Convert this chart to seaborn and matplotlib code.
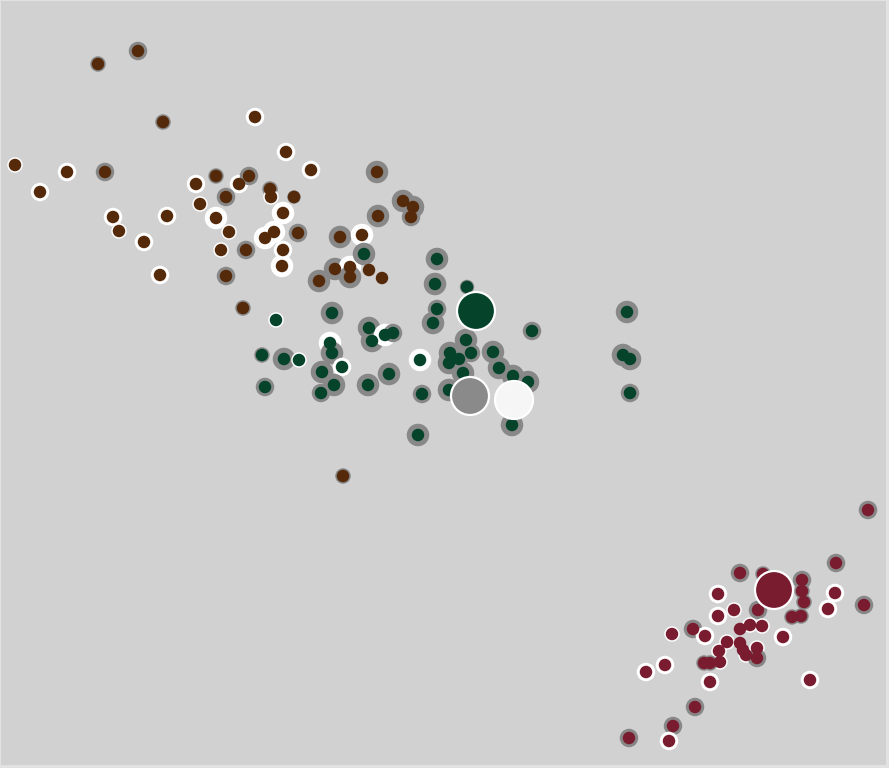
import seaborn as sns
import matplotlib.pyplot as plt
import pandas as pd
import numpy as np

# points: x, y (screen units, y down), edge colour, stroke width (px)
brown_x = [138, 98, 163, 255, 286, 311, 377, 15, 67, 105, 40, 196, 216, 239, 249, 270, 271, 294,
           226, 200, 113, 167, 216, 283, 119, 144, 229, 265, 274, 298, 221, 246, 283, 403, 413,
           411, 378, 340, 362, 160, 226, 282, 319, 335, 350, 350, 369, 382, 243, 343]
brown_y = [51, 64, 122, 117, 152, 170, 172, 165, 172, 172, 192, 184, 176, 184, 176, 189, 197, 197,
           197, 204, 217, 216, 218, 213, 231, 242, 232, 238, 232, 233, 250, 250, 250, 201, 207,
           217, 216, 237, 235, 275, 276, 266, 281, 269, 267, 277, 270, 278, 308, 476]
brown_edge = ['gray', 'gray', 'gray', 'white', 'white', 'white', 'gray', 'white', 'white', 'gray',
              'white', 'white', 'gray', 'white', 'gray', 'gray', 'white', 'gray', 'gray', 'white',
              'white', 'white', 'white', 'white', 'white', 'white', 'white', 'white', 'white', 'gray',
              'white', 'gray', 'white', 'gray', 'gray', 'gray', 'gray', 'gray', 'white', 'white',
              'gray', 'white', 'gray', 'gray', 'white', 'gray', 'gray', 'gray', 'gray', 'gray']
brown_w = [3, 1.5, 1.5, 3, 3, 3, 5, 1.5, 3, 3, 3, 3, 1.5, 3, 3, 1.5, 1.5, 0.5,
           3, 1.5, 3, 3, 5, 5, 1.5, 3, 1.5, 5, 5, 3, 1.5, 3, 3, 5, 5,
           3, 5, 5, 5, 3, 3, 5, 5, 5, 5, 5, 0, 0, 1.5, 1.5]

green_x = [364, 437, 435, 467, 437, 433, 332, 276, 369, 372, 385, 393, 330, 332, 342, 262, 284,
           299, 322, 334, 321, 265, 368, 389, 420, 422, 418, 466, 471, 450, 459, 449, 463, 449,
           493, 499, 513, 528, 532, 512, 627, 623, 630, 630]
green_y = [254, 259, 284, 287, 309, 323, 313, 320, 328, 341, 335, 333, 343, 353, 367, 355, 359,
           360, 372, 385, 393, 387, 385, 374, 360, 394, 435, 340, 353, 353, 359, 363, 373, 390,
           352, 368, 376, 382, 331, 425, 312, 355, 359, 393]
green_edge = ['gray', 'gray', 'gray', 'gray', 'gray', 'gray', 'gray', 'white', 'gray', 'gray',
              'white', 'gray', 'white', 'gray', 'white', 'gray', 'gray', 'white', 'gray', 'gray',
              'gray', 'gray', 'gray', 'gray', 'white', 'gray', 'gray', 'gray', 'gray', 'gray',
              'gray', 'gray', 'gray', 'gray', 'gray', 'gray', 'gray', 'gray', 'gray', 'gray',
              'gray', 'gray', 'gray', 'gray']
green_w = [5, 5, 5, 1, 3, 5, 5, 1.5, 5, 5, 5, 3, 5, 5, 3, 1.5, 5, 1.5, 5, 5,
           3, 3, 5, 5, 5, 3, 5, 5, 3, 5, 3, 5, 5, 5, 5, 5, 5, 5, 3, 5,
           5, 5, 5, 3]

red_x = [868, 836, 740, 763, 802, 802, 804, 835, 864, 828, 718, 718, 734, 758, 792, 801, 762,
         750, 740, 693, 672, 705, 783, 727, 740, 743, 757, 719, 746, 757, 720, 704, 710, 665,
         646, 710, 810, 695, 673, 629, 669]
red_y = [510, 563, 573, 574, 580, 591, 602, 593, 605, 609, 594, 616, 610, 610, 617, 616, 626,
         625, 629, 629, 634, 636, 637, 642, 643, 650, 648, 651, 655, 658, 662, 663, 663, 665,
         672, 682, 680, 707, 726, 738, 741]
red_edge = ['gray', 'gray', 'gray', 'gray', 'gray', 'gray', 'gray', 'white', 'gray', 'white',
            'white', 'white', 'white', 'gray', 'gray', 'gray', 'white', 'white', 'gray', 'gray',
            'white', 'white', 'white', 'white', 'gray', 'gray', 'white', 'white', 'white', 'gray',
            'white', 'gray', 'gray', 'white', 'white', 'white', 'white', 'gray', 'gray', 'gray',
            'white']
red_w = [3, 3, 3, 1.5, 3, 1.5, 1.5, 3, 3, 3, 3, 3, 1.5, 3, 1.5, 1.5, 1.5,
         1.5, 0, 3, 1.5, 3, 3, 1.5, 0, 0, 1.5, 1.5, 1.5, 3, 1.5, 1.5, 1.5, 3,
         3, 3, 3, 3, 3, 3, 3]

# big markers
big_x = [476, 774, 470, 514]
big_y = [311, 590, 396, 400]
big_kind = ['green', 'red', 'gray', 'light']

fill_colors = {'brown': '#552a0b', 'green': '#05432a', 'red': '#7a1c30',
               'gray': '#8a8a8a', 'light': '#f6f6f6'}
edge_colors = {'white': '#ffffff', 'gray': '#888888'}

dot_px = 12.5
big_px = 38.0
px2pt = 72 / 100

df = pd.concat([
    pd.DataFrame({'x': brown_x, 'y': brown_y, 'cluster': 'brown', 'edge': brown_edge, 'w': brown_w}),
    pd.DataFrame({'x': green_x, 'y': green_y, 'cluster': 'green', 'edge': green_edge, 'w': green_w}),
    pd.DataFrame({'x': red_x, 'y': red_y, 'cluster': 'red', 'edge': red_edge, 'w': red_w}),
], ignore_index=True)
df['halo'] = ((dot_px + 2 * df['w']) * px2pt) ** 2

big = pd.DataFrame({'x': big_x, 'y': big_y, 'kind': big_kind})

fig = plt.figure(figsize=(8.89, 7.68), dpi=100, facecolor='#e2e2e2')
ax = fig.add_axes([1 / 889, 3 / 768, 885 / 889, 764 / 768])
ax.set_facecolor('#d1d1d1')

halo_sizes = {v: v for v in df['halo'].unique()}
halos = df[df['w'] > 0]
sns.scatterplot(data=halos, x='x', y='y', hue='edge', palette=edge_colors,
                size='halo', sizes=halo_sizes, linewidth=0, legend=False, ax=ax)
sns.scatterplot(data=df, x='x', y='y', hue='cluster', palette=fill_colors,
                s=(dot_px * px2pt) ** 2, linewidth=0, legend=False, ax=ax)
sns.scatterplot(data=big, x='x', y='y', hue='kind', palette=fill_colors,
                s=(big_px * px2pt) ** 2, edgecolor='white', linewidth=2.2 * px2pt,
                legend=False, ax=ax)

# axes box: left/top at pixel 1, right at 886, bottom at 765
ax.set_xlim(1, 886)
ax.set_ylim(765, 1)
ax.set_xticks([])
ax.set_yticks([])
ax.set_xlabel('')
ax.set_ylabel('')
for sp in ax.spines.values():
    sp.set_visible(False)

fig.savefig('out.png', dpi=100, facecolor=fig.get_facecolor())
